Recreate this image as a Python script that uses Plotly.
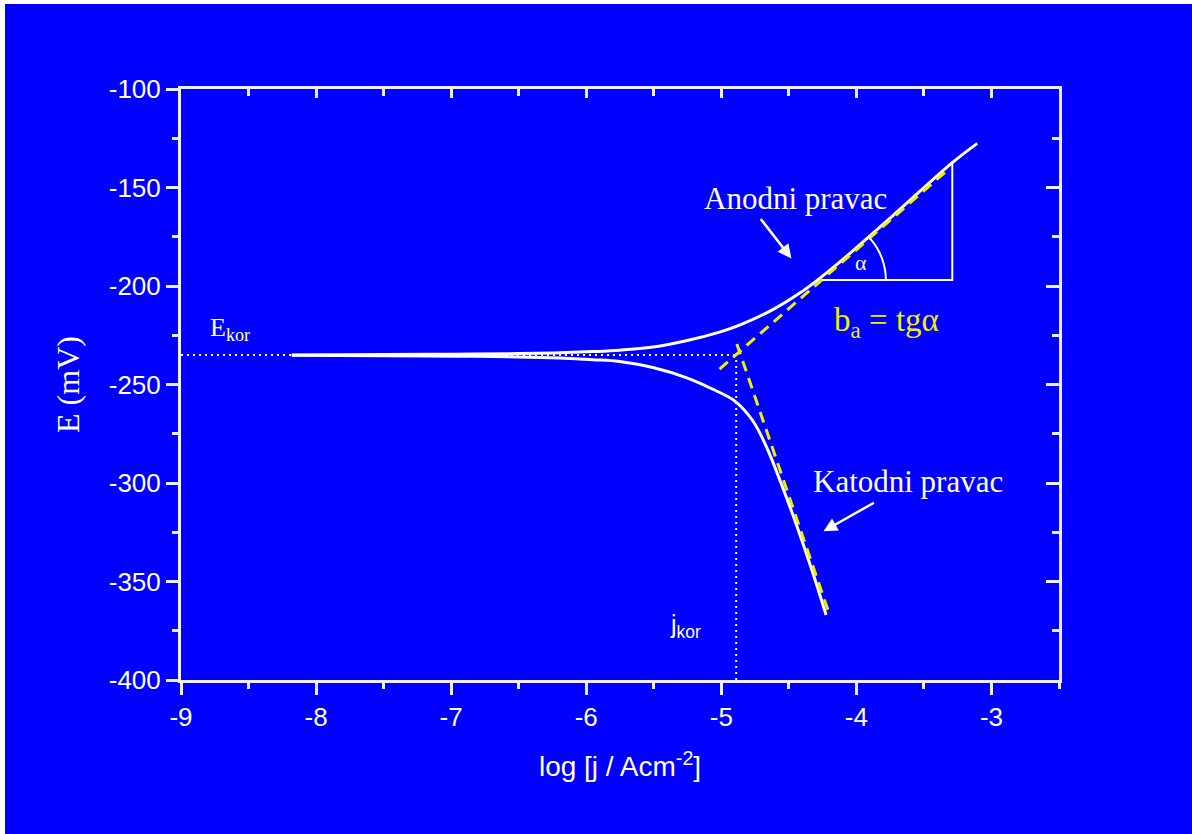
import numpy as np
import plotly.graph_objects as go

# ---------------- data ----------------
anodic_logj = [-8.18, -7.5, -7.0, -6.5, -6.2, -5.95, -5.753, -5.507, -5.26, -5.013,
               -4.865, -4.619, -4.422, -4.298, -4.126, -3.719, -3.29, -3.105]
anodic_E = [-235.0, -234.8, -234.6, -234.3, -233.9, -233.3, -232.6, -231.0, -227.8, -223.4,
            -219.9, -212.0, -203.7, -197.5, -188.0, -163.6, -137.4, -127.6]

cathodic_logj = [-8.18, -7.5, -7.0, -6.5, -6.197, -5.953, -5.753, -5.507, -5.26, -5.063,
                 -4.902, -4.767, -4.66, -4.55, -4.45, -4.335, -4.224]
cathodic_E = [-235.2, -235.4, -235.6, -236.0, -236.6, -237.4, -238.3, -241.4, -246.5, -252.4,
              -258.3, -268.4, -282.5, -301.5, -320.0, -343.0, -367.0]

anodic_tafel_logj = [-5.013, -3.334]
anodic_tafel_E = [-242.2, -141.7]
cathodic_tafel_logj = [-4.885, -4.203]
cathodic_tafel_E = [-229.4, -366.0]

E_kor = -235.0
log_j_kor = -4.89

triangle_logj = [-4.252, -3.29, -3.29]
triangle_E = [-197.0, -197.0, -137.1]

x_range = [-9, -2.5]
y_range = [-400, -100]
x_ticks = [-9, -8, -7, -6, -5, -4, -3]
y_ticks = [-400, -350, -300, -250, -200, -150, -100]

# ---------------- styling ----------------
BLUE = "#0000FF"
WHITE = "#FFFFFF"
AXIS = "#EEEEFF"
YELLOW = "#EEEE10"
SERIF = "Liberation Serif, Times New Roman, serif"
SANS = "Liberation Sans, Arial, sans-serif"

fig = go.Figure()

# reference dotted lines (E_kor and j_kor)
fig.add_trace(go.Scatter(x=[x_range[0], log_j_kor], y=[E_kor, E_kor], mode="lines",
                         line=dict(color=WHITE, width=2, dash="2px,4px"),
                         hoverinfo="skip", showlegend=False, cliponaxis=False))
fig.add_trace(go.Scatter(x=[log_j_kor, log_j_kor], y=[y_range[0], E_kor], mode="lines",
                         line=dict(color=WHITE, width=2, dash="2px,4px"),
                         hoverinfo="skip", showlegend=False))

# polarisation curve
fig.add_trace(go.Scatter(x=anodic_logj, y=anodic_E, mode="lines",
                         line=dict(color=WHITE, width=3, shape="spline", smoothing=1.0),
                         hoverinfo="skip", showlegend=False))
fig.add_trace(go.Scatter(x=cathodic_logj, y=cathodic_E, mode="lines",
                         line=dict(color=WHITE, width=3, shape="spline", smoothing=1.0),
                         hoverinfo="skip", showlegend=False))

# Tafel lines
fig.add_trace(go.Scatter(x=anodic_tafel_logj, y=anodic_tafel_E, mode="lines",
                         line=dict(color=YELLOW, width=3, dash="11px,7px"),
                         hoverinfo="skip", showlegend=False))
fig.add_trace(go.Scatter(x=cathodic_tafel_logj, y=cathodic_tafel_E, mode="lines",
                         line=dict(color=YELLOW, width=3, dash="11px,7px"),
                         hoverinfo="skip", showlegend=False))

# slope triangle
fig.add_trace(go.Scatter(x=triangle_logj, y=triangle_E, mode="lines",
                         line=dict(color=WHITE, width=2),
                         hoverinfo="skip", showlegend=False))

# invisible trace to create the mirrored (inside-tick) axes
fig.add_trace(go.Scatter(x=[log_j_kor], y=[E_kor], mode="markers", opacity=0,
                         xaxis="x2", yaxis="y2", hoverinfo="skip", showlegend=False))

# angle arc at the triangle corner
arc_rx, arc_ry = 0.47, 32.0
ang = np.linspace(0, np.radians(44), 20)
ax_pts = triangle_logj[0] + arc_rx * np.cos(ang)
ay_pts = triangle_E[0] + arc_ry * np.sin(ang)
arc_path = "M " + " L ".join(f"{a:.4f},{b:.3f}" for a, b in zip(ax_pts, ay_pts))
fig.add_shape(type="path", path=arc_path, xref="x", yref="y",
              line=dict(color=WHITE, width=2))

# white frame strips at top and left edge of the picture
fig.add_shape(type="rect", xref="paper", yref="paper", x0=-0.2062, x1=-0.2005,
              y0=-0.27, y1=1.16, fillcolor=WHITE, line_width=0, layer="below")
fig.add_shape(type="rect", xref="paper", yref="paper", x0=-0.21, x1=1.16,
              y0=1.1438, y1=1.16, fillcolor=WHITE, line_width=0, layer="below")

# text annotations
ann = [
    dict(x=-4.451, y=-155.5, text="Anodni pravac", font=dict(family=SERIF, size=31, color=WHITE)),
    dict(x=-3.615, y=-299.0, text="Katodni pravac", font=dict(family=SERIF, size=31, color=WHITE)),
    dict(x=-3.78, y=-218.6, text="b<sub>a</sub> = tgα", font=dict(family=SERIF, size=33, color=YELLOW)),
    dict(x=-3.963, y=-188.0, text="α", font=dict(family=SERIF, size=22, color=WHITE)),
    dict(x=-8.638, y=-221.7, text="E<sub>kor</sub>", font=dict(family=SERIF, size=26, color=WHITE)),
    dict(x=-5.265, y=-372.8, text="j<sub>kor</sub>", font=dict(family=SANS, size=25, color=WHITE)),
]
for a in ann:
    fig.add_annotation(xref="x", yref="y", showarrow=False, **a)

# arrows
fig.add_annotation(x=-4.481, y=-186.0, ax=-4.717, ay=-165.2, xref="x", yref="y",
                   axref="x", ayref="y", text="", showarrow=True, arrowhead=2,
                   arrowsize=1.1, arrowwidth=2.5, arrowcolor=WHITE)
fig.add_annotation(x=-4.244, y=-324.5, ax=-3.859, ay=-309.6, xref="x", yref="y",
                   axref="x", ayref="y", text="", showarrow=True, arrowhead=2,
                   arrowsize=1.1, arrowwidth=2.5, arrowcolor=WHITE)

tickfont = dict(family=SANS, size=26, color=WHITE)

fig.update_layout(
    width=1192, height=834,
    margin=dict(l=181, r=133, t=89, b=154),
    paper_bgcolor=BLUE, plot_bgcolor=BLUE,
    showlegend=False,
    xaxis=dict(range=x_range, tickvals=x_ticks, ticktext=[str(v) for v in x_ticks],
               showgrid=False, zeroline=False, showline=True, linecolor=AXIS, linewidth=3,
               mirror=True, ticks="outside", ticklen=12, tickwidth=2.5, tickcolor=AXIS,
               minor=dict(dtick=0.5, tick0=-9, ticks="outside", ticklen=6, tickwidth=2.5,
                          tickcolor=AXIS, showgrid=False),
               tickfont=tickfont, ticklabelstandoff=0,
               title=dict(text="log [j / Acm<sup>-2</sup>]", standoff=26,
                          font=dict(family=SANS, size=28, color=WHITE))),
    yaxis=dict(range=y_range, tickvals=y_ticks, ticktext=[str(v) for v in y_ticks],
               showgrid=False, zeroline=False, showline=True, linecolor=AXIS, linewidth=3,
               mirror=True, ticks="outside", ticklen=12, tickwidth=2.5, tickcolor=AXIS,
               minor=dict(dtick=25, tick0=-400, ticks="outside", ticklen=6, tickwidth=2.5,
                          tickcolor=AXIS, showgrid=False),
               tickfont=tickfont, ticklabelstandoff=0,
               title=dict(text="E (mV)", standoff=20,
                          font=dict(family=SERIF, size=32, color=WHITE))),
    xaxis2=dict(range=x_range, overlaying="x", side="top", anchor="y",
                tickvals=x_ticks, showticklabels=False, showgrid=False, zeroline=False,
                showline=False, ticks="inside", ticklen=9, tickwidth=2.5, tickcolor=AXIS,
                minor=dict(dtick=0.5, tick0=-9, ticks="inside", ticklen=7, tickwidth=2.5,
                           tickcolor=AXIS, showgrid=False)),
    yaxis2=dict(range=y_range, overlaying="y", side="right", anchor="x",
                tickvals=y_ticks, showticklabels=False, showgrid=False, zeroline=False,
                showline=False, ticks="inside", ticklen=13, tickwidth=2.5, tickcolor=AXIS,
                minor=dict(dtick=25, tick0=-400, ticks="inside", ticklen=7, tickwidth=2.5,
                           tickcolor=AXIS, showgrid=False)),
)

fig.write_html("out.html", config={"displayModeBar": False},
               post_script="document.body.style.margin='0px';document.body.style.padding='0px';")
